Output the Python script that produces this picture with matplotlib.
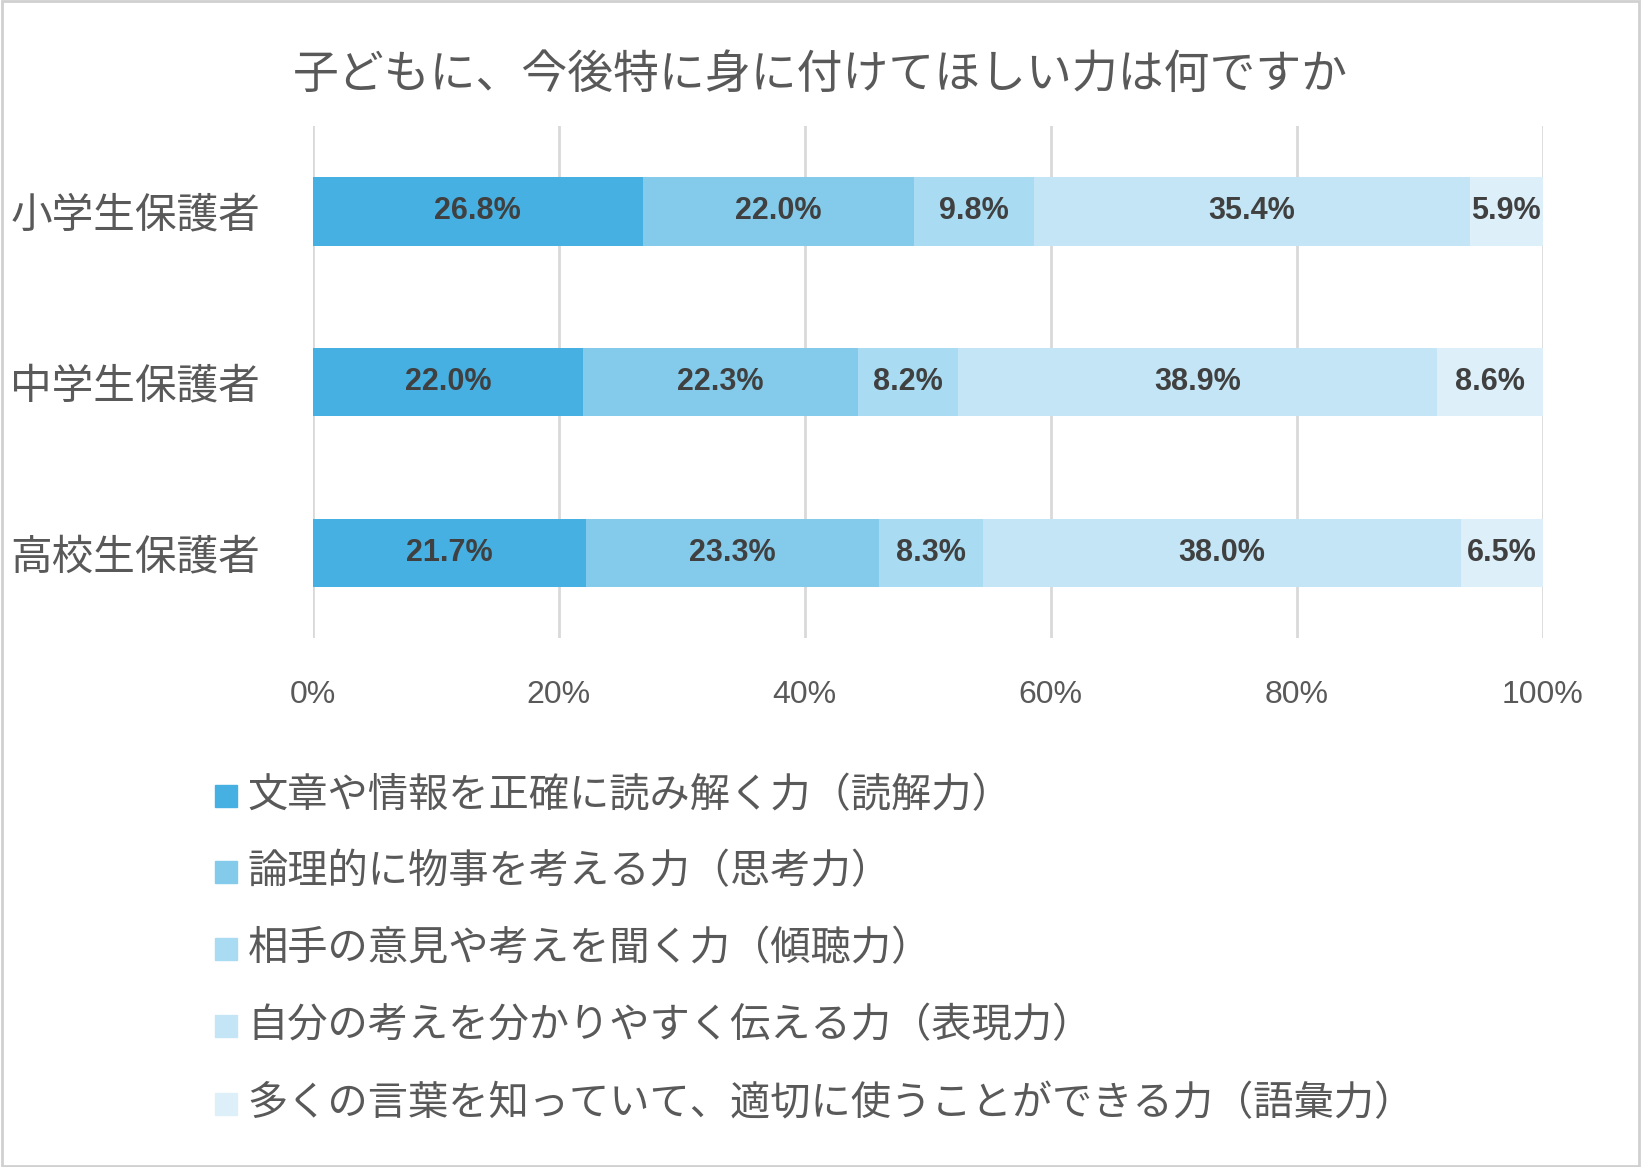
import matplotlib.pyplot as plt
import numpy as np
from matplotlib.patches import Rectangle

plt.rcParams['font.family'] = ['Noto Sans CJK JP', 'DejaVu Sans']

title = "子どもに、今後特に身に付けてほしい力は何ですか"
groups = ["小学生保護者", "中学生保護者", "高校生保護者"]
series = [
    "文章や情報を正確に読み解く力（読解力）",
    "論理的に物事を考える力（思考力）",
    "相手の意見や考えを聞く力（傾聴力）",
    "自分の考えを分かりやすく伝える力（表現力）",
    "多くの言葉を知っていて、適切に使うことができる力（語彙力）",
]
values = [
    [26.8, 22.0, 21.7],
    [22.0, 22.3, 23.3],
    [9.8, 8.2, 8.3],
    [35.4, 38.9, 38.0],
    [5.9, 8.6, 6.5],
]
colors = ["#45B0E1", "#84CBEB", "#A9DCF2", "#C3E5F5", "#DDF0F9"]
grey = "#595959"

fig = plt.figure(figsize=(16.41, 11.67), dpi=100)
fig.patches.append(Rectangle((0.001, 0.001), 0.998, 0.998, transform=fig.transFigure,
                             fill=False, edgecolor="#D0D0D0", linewidth=2))
ax = fig.add_axes([0.1907, 0.453, 0.7493, 0.439])

raw = np.array(values)
# bars are drawn as shares of 100% per group (100% stacked bar)
shares = raw / raw.sum(axis=0) * 100

y = np.arange(len(groups))
left = np.zeros(len(groups))
for vals, labs, col in zip(shares, raw, colors):
    ax.barh(y, vals, left=left, height=0.4, color=col, zorder=3)
    for yi, l, v, lab in zip(y, left, vals, labs):
        ax.text(l + v / 2, yi, f"{lab:.1f}%", ha="center", va="center",
                fontsize=22, fontweight="bold", color="#404040",
                family=["Liberation Sans", "DejaVu Sans"], zorder=4)
    left += vals

ax.set_xlim(0, 100)
ax.set_ylim(2.5, -0.5)
ax.set_xticks(np.arange(0, 101, 20))
ax.set_xticklabels([f"{t}%" for t in range(0, 101, 20)], fontsize=23, color=grey,
                   family=["Liberation Sans", "DejaVu Sans"])
ax.set_yticks(y)
ax.set_yticklabels(groups, fontsize=30, color=grey)
ax.tick_params(length=0, pad=30, axis="x")
ax.tick_params(length=0, pad=38, axis="y")
ax.grid(axis="x", color="#D9D9D9", linewidth=2, zorder=0)
for s in ax.spines.values():
    s.set_visible(False)

fig.text(0.5, 0.936, title, ha="center", va="center", fontsize=33, color=grey)

ys = [0.318, 0.253, 0.187, 0.121, 0.054]
for name, col, yy in zip(series, colors, ys):
    fig.patches.append(Rectangle((0.131, yy - 0.0095), 0.0135, 0.019,
                                 transform=fig.transFigure, color=col))
    fig.text(0.151, yy, name, ha="left", va="center", fontsize=29, color=grey)

fig.savefig("out.png", dpi=100)
